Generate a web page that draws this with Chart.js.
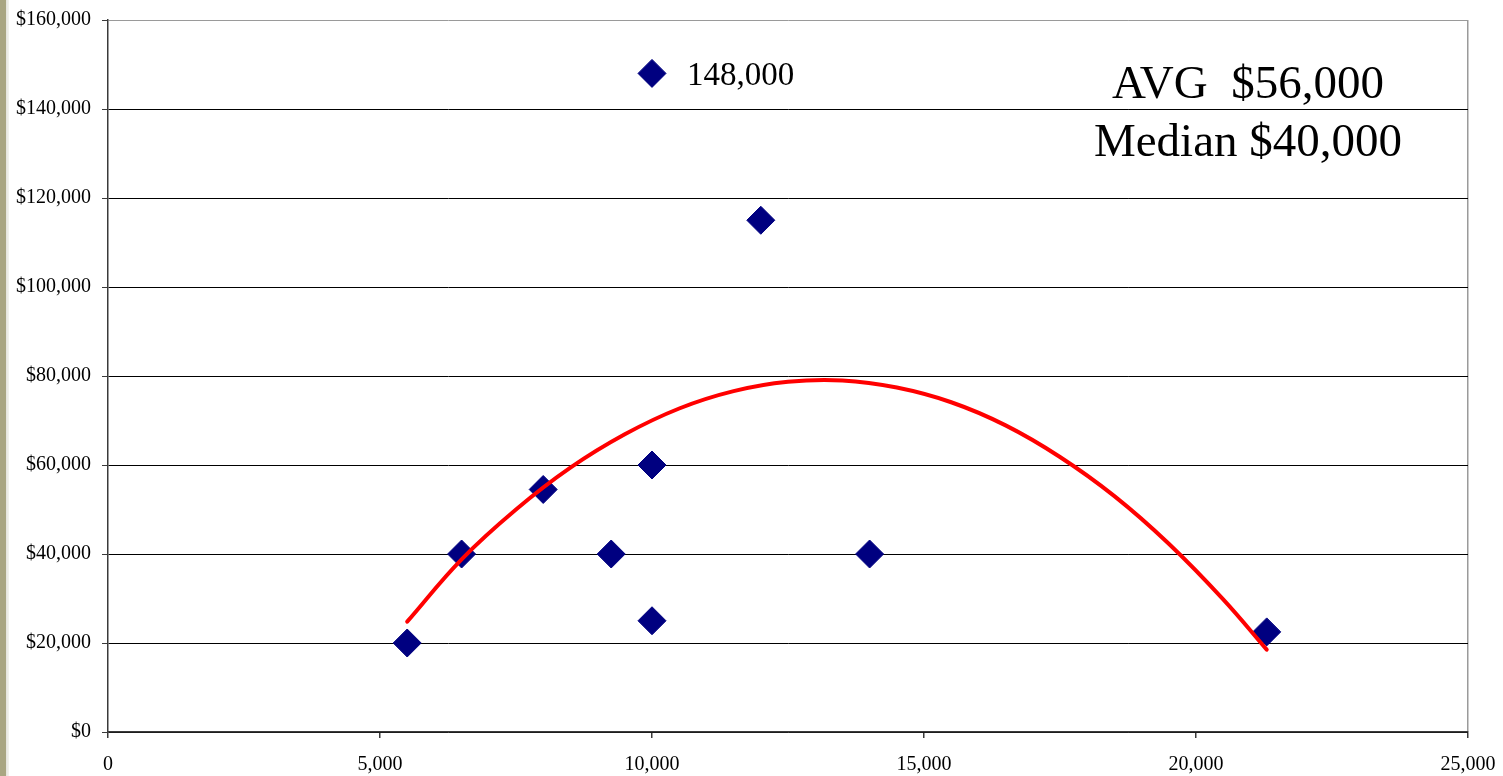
<!DOCTYPE html>
<html>
<head>
<meta charset="utf-8">
<script src="https://cdn.jsdelivr.net/npm/chart.js@4.4.1/dist/chart.umd.min.js"></script>
<style>
  html, body { margin: 0; padding: 0; background: #ffffff; }
  #wrap { position: relative; width: 1503px; height: 776px; overflow: hidden; }
  #edge { position: absolute; left: 0; top: 0; width: 9px; height: 776px;
          background: linear-gradient(to right, #a9a682 0px, #a9a682 6px, #e4e4dc 6px, #f4f4f0 9px); }
  canvas { position: absolute; left: 0; top: 0; }
</style>
</head>
<body>
<div id="wrap">
  <div id="edge"></div>
  <canvas id="chart" width="1503" height="776"></canvas>
</div>
<script>
// Units sold (x) and salary (y) for each salesperson
const unitsSold = [5500, 6500, 8000, 9250, 10000, 10000, 10000, 12000, 14000, 21300];
const salary    = [20000, 40000, 54500, 40000, 25000, 60000, 148000, 115000, 40000, 22500];

// Second-order trend curve, sampled along its length
const trendX = [5500, 6500, 7500, 8500, 9500, 10500, 11500, 12500, 13500, 14500, 15500, 16500, 17500, 18500, 19500, 20500, 21300];
const trendY = [24800, 38800, 50000, 59400, 66900, 72700, 76600, 78700, 79000, 77400, 74100, 68900, 61800, 53000, 42300, 29800, 18500];

// Axis ranges and tick steps
const xTicks = [0, 5000, 10000, 15000, 20000, 25000];
const yTicks = [0, 20000, 40000, 60000, 80000, 100000, 120000, 140000, 160000];

// Summary lines in the top-right corner
const summaryLines = ['AVG  $56,000', 'Median $40,000'];

const SERIF = '"Liberation Serif", "Times New Roman", serif';

const points = unitsSold.map((x, i) => ({ x: x, y: salary[i] }));
const trend = trendX.map((x, i) => ({ x: x, y: trendY[i] }));

// Labels the highest salary and writes the summary text
const annotations = {
  id: 'annotations',
  afterDatasetsDraw(chart) {
    const ctx = chart.ctx;
    const meta = chart.getDatasetMeta(1);
    let top = 0;
    salary.forEach((v, i) => { if (v > salary[top]) top = i; });
    const el = meta.data[top];
    ctx.save();
    ctx.fillStyle = '#000000';
    ctx.font = '33px ' + SERIF;
    ctx.textAlign = 'left';
    ctx.textBaseline = 'alphabetic';
    ctx.fillText(salary[top].toLocaleString('en-US'), el.x + 35, el.y + 12);

    ctx.font = '47px ' + SERIF;
    ctx.textAlign = 'center';
    const cx = chart.chartArea.right - 220;
    ctx.fillText(summaryLines[0], cx, chart.chartArea.top + 78);
    ctx.fillText(summaryLines[1], cx, chart.chartArea.top + 136);
    ctx.restore();
  }
};

new Chart(document.getElementById('chart'), {
  type: 'scatter',
  data: {
    datasets: [
      {
        label: 'Trend',
        data: trend,
        showLine: true,
        borderColor: '#ff0000',
        borderWidth: 4,
        borderCapStyle: 'round',
        pointRadius: 0,
        pointHoverRadius: 0,
        tension: 0.4,
        fill: false,
        order: 0
      },
      {
        label: 'Salary',
        data: points,
        pointStyle: 'rectRot',
        pointRadius: 14,
        pointHoverRadius: 14,
        backgroundColor: '#000080',
        borderColor: '#000080',
        borderWidth: 1,
        order: 1
      }
    ]
  },
  options: {
    responsive: false,
    animation: false,
    events: [],
    layout: { autoPadding: false, padding: { left: 0, right: 35, top: 20, bottom: 0 } },
    plugins: {
      legend: { display: false },
      tooltip: { enabled: false }
    },
    scales: {
      x: {
        type: 'linear',
        min: xTicks[0],
        max: xTicks[xTicks.length - 1],
        afterFit(scale) {
          scale.height = 44;
          scale.paddingLeft = 0;
          scale.paddingRight = 0;
        },
        afterBuildTicks(scale) { scale.ticks = xTicks.map(v => ({ value: v })); },
        border: { display: true, color: '#3a3a3a', width: 1.5 },
        grid: {
          drawOnChartArea: true,
          drawTicks: true,
          tickLength: 6,
          tickColor: '#3a3a3a',
          color: ctx => (ctx.tick && ctx.tick.value === xTicks[xTicks.length - 1]) ? '#9a9a9a' : 'rgba(0,0,0,0)',
          lineWidth: 1.5
        },
        ticks: {
          color: '#000000',
          font: { family: SERIF, size: 20 },
          padding: 15,
          maxRotation: 0,
          callback: v => v.toLocaleString('en-US')
        }
      },
      y: {
        type: 'linear',
        min: yTicks[0],
        max: yTicks[yTicks.length - 1],
        afterFit(scale) {
          scale.width = 108;
          scale.paddingTop = 0;
          scale.paddingBottom = 0;
        },
        afterBuildTicks(scale) { scale.ticks = yTicks.map(v => ({ value: v })); },
        border: { display: true, color: '#3a3a3a', width: 1.5 },
        grid: {
          drawTicks: true,
          tickLength: 6,
          tickColor: '#3a3a3a',
          color: ctx => (ctx.tick && ctx.tick.value === yTicks[yTicks.length - 1]) ? '#9a9a9a' : '#000000',
          lineWidth: 1
        },
        ticks: {
          color: '#000000',
          font: { family: SERIF, size: 20 },
          padding: 11,
          callback: v => '$' + v.toLocaleString('en-US')
        }
      }
    }
  },
  plugins: [annotations]
});
</script>
</body>
</html>
